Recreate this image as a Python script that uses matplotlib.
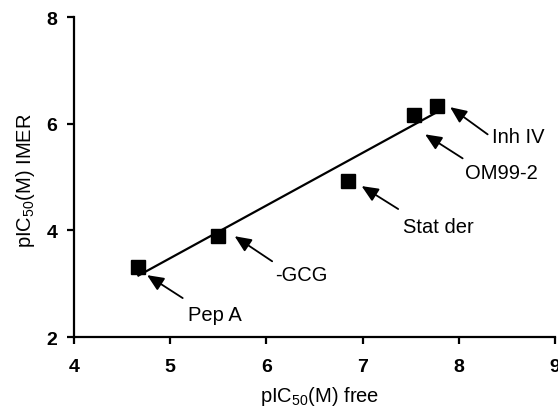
import numpy as np
import matplotlib
matplotlib.use("Agg")
import matplotlib.pyplot as plt

plt.rcParams["font.family"] = ["Liberation Sans", "DejaVu Sans"]
plt.rcParams["mathtext.fontset"] = "custom"
plt.rcParams["mathtext.rm"] = "Liberation Sans"

# pIC50 libre vs pIC50 IMER
noms = ["Pep A", "-GCG", "Stat der", "OM99-2", "Inh IV"]
pic_free = [4.67, 5.50, 6.85, 7.53, 7.77]
pic_imer = [3.31, 3.89, 4.93, 6.16, 6.33]

# position des étiquettes (texte, queue, pointe de flèche)
etiquettes = {
    "Pep A": ((5.19, 2.43), (5.13, 2.73), (4.76, 3.16)),
    "-GCG": ((6.09, 3.18), (6.06, 3.42), (5.67, 3.89)),
    "Stat der": ((7.42, 4.08), (7.37, 4.40), (6.99, 4.83)),
    "OM99-2": ((8.06, 5.09), (8.04, 5.35), (7.65, 5.80)),
    "Inh IV": ((8.35, 5.76), (8.30, 5.80), (7.91, 6.31)),
}

fig = plt.figure(figsize=(5.58, 4.10), dpi=100)
ax = fig.add_axes([0.1326, 0.1756, 0.862, 0.7804])

pente, orig = np.polyfit(pic_free, pic_imer, 1)
xs = np.array([min(pic_free), max(pic_free)])
ax.plot(xs, pente * xs + orig, color="black", lw=1.6, zorder=2)
ax.plot(pic_free, pic_imer, "s", color="black", ms=9.5, zorder=3)

for nom in noms:
    txt, queue, tete = etiquettes[nom]
    ax.text(txt[0], txt[1], nom, fontsize=14.5, ha="left", va="center")
    ax.annotate("", xy=tete, xytext=queue,
                arrowprops=dict(arrowstyle="-|>,head_length=0.5,head_width=0.22",
                                mutation_scale=20, lw=1.3, color="black",
                                shrinkA=0, shrinkB=0))

ax.set_xlim(4, 9)
ax.set_ylim(2, 8)
ax.set_xticks([4, 5, 6, 7, 8, 9])
ax.set_yticks([2, 4, 6, 8])
for s in ["top", "right"]:
    ax.spines[s].set_visible(False)
for s in ["left", "bottom"]:
    ax.spines[s].set_linewidth(1.6)
ax.tick_params(direction="out", length=5, width=1.6, labelsize=14)
ax.tick_params(axis="x", pad=10)
ax.tick_params(axis="y", pad=7)
for lab in ax.get_xticklabels() + ax.get_yticklabels():
    lab.set_fontweight("bold")

fig.text(0.573, 0.006, r"pIC$_{\mathregular{50}}$(M) free", fontsize=14.5,
         ha="center", va="bottom")
fig.text(0.045, 0.56, r"pIC$_{\mathregular{50}}$(M) IMER", fontsize=14.5,
         ha="center", va="center", rotation=90)

fig.savefig("out.png", dpi=100)
